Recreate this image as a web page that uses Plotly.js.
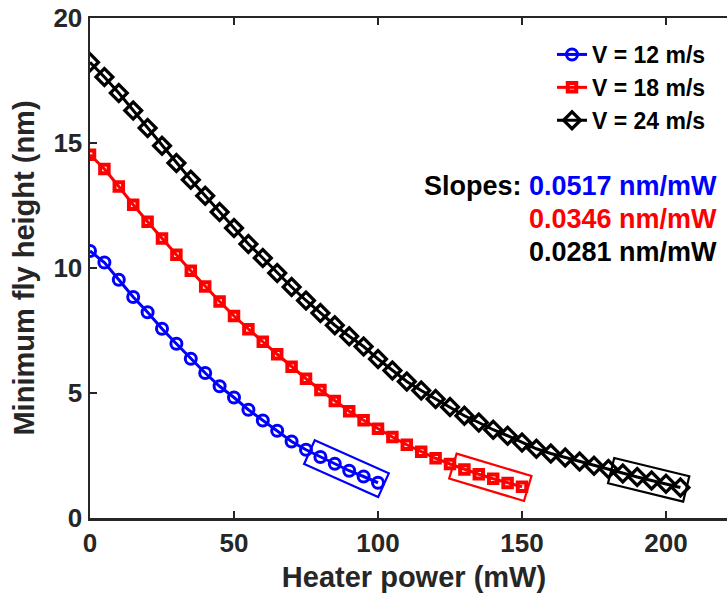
<!DOCTYPE html>
<html><head><meta charset="utf-8">
<script src="https://cdn.plot.ly/plotly-3.0.1.min.js"></script>
<style>html,body{margin:0;padding:0;background:#fff;overflow:hidden;}</style>
</head><body><div id="chart" style="width:741px;height:597px;"></div>
<script>
// ---- data ----
const seriesNames = ['V = 12 m/s', 'V = 18 m/s', 'V = 24 m/s'];
const seriesColors = ['#0000ff', '#ff0000', '#000000'];

const powerBlue = [0,5,10,15,20,25,30,35,40,45,50,55,60,65,70,75,80,85,90,95,100];
const heightBlue = [10.68,10.22,9.53,8.84,8.23,7.57,6.97,6.37,5.80,5.27,4.82,4.33,3.90,3.49,3.06,2.73,2.44,2.17,1.89,1.66,1.41];

const powerRed = [0,5,10,15,20,25,30,35,40,45,50,55,60,65,70,75,80,85,90,95,100,105,110,115,120,125,130,135,140,145,150];
const heightRed = [14.53,13.96,13.26,12.53,11.85,11.18,10.53,9.89,9.26,8.66,8.08,7.55,7.05,6.55,6.05,5.57,5.12,4.68,4.27,3.91,3.57,3.24,2.93,2.65,2.39,2.16,1.94,1.75,1.57,1.40,1.25];

const powerBlack = [0,5,10,15,20,25,30,35,40,45,50,55,60,65,70,75,80,85,90,95,100,105,110,115,120,125,130,135,140,145,150,155,160,165,170,175,180,185,190,195,200,205];
const heightBlack = [18.23,17.64,17.00,16.30,15.60,14.89,14.20,13.53,12.89,12.24,11.60,10.96,10.40,9.80,9.24,8.70,8.20,7.71,7.27,6.86,6.36,5.90,5.46,5.10,4.76,4.44,4.09,3.82,3.53,3.29,3.02,2.77,2.58,2.42,2.26,2.09,1.96,1.78,1.64,1.50,1.37,1.22];

const slopeLabel = 'Slopes:';
const slopeTexts = ['0.0517 nm/mW', '0.0346 nm/mW', '0.0281 nm/mW'];

const xTicks = [0, 50, 100, 150, 200];
const yTicks = [0, 5, 10, 15, 20];

// ---- layout geometry (axes box runs past the right edge of the 727 px view) ----
const W = 741, H = 597;
const M = {l: 90, r: 3, t: 18, b: 79};
const xRange = [0, 225], yRange = [0, 20];
const plotW = W - M.l - M.r, plotH = H - M.t - M.b;
const pxX = plotW / (xRange[1] - xRange[0]);
const pxY = plotH / (yRange[1] - yRange[0]);
const px2paperX = p => (p - M.l) / plotW;
const px2paperY = p => (H - M.b - p) / plotH;

const FONT = 'Liberation Sans, Arial, Helvetica, sans-serif';
const AXC = '#262626';

// rotated box around the last n points of a series (fit region)
function boxPath(xs, ys, n, padS, padE, half) {
  const i0 = xs.length - n, i1 = xs.length - 1;
  const ax = xs[i0] * pxX, ay = ys[i0] * pxY, bx = xs[i1] * pxX, by = ys[i1] * pxY;
  let dx = bx - ax, dy = by - ay;
  const L = Math.hypot(dx, dy); dx /= L; dy /= L;
  const nx = -dy, ny = dx;
  const pts = [
    [ax - dx * padS + nx * half, ay - dy * padS + ny * half],
    [bx + dx * padE + nx * half, by + dy * padE + ny * half],
    [bx + dx * padE - nx * half, by + dy * padE - ny * half],
    [ax - dx * padS - nx * half, ay - dy * padS - ny * half]
  ];
  return 'M' + pts.map(p => (p[0] / pxX).toFixed(3) + ',' + (p[1] / pxY).toFixed(3)).join(' L') + ' Z';
}

const xs = [powerBlue, powerRed, powerBlack];
const ys = [heightBlue, heightRed, heightBlack];
const symbols = ['circle-open', 'square-open', 'diamond-open'];
const msize = [11, 8.5, 13];
const mlw = [3, 4, 3.2];

const traces = xs.map((x, i) => ({
  x: x, y: ys[i], type: 'scatter', mode: 'lines+markers', name: seriesNames[i],
  line: {color: seriesColors[i], width: 3},
  marker: {symbol: symbols[i], size: msize[i], color: seriesColors[i], line: {color: seriesColors[i], width: mlw[i]}}
}));

const shapes = xs.map((x, i) => ({
  type: 'path', xref: 'x', yref: 'y', path: boxPath(x, ys[i], 5, 12, 6, 13),
  line: {color: seriesColors[i], width: 2.2}, fillcolor: 'rgba(0,0,0,0)'
}));

const annPx = [186, 219, 252];
const annotations = [{
  xref: 'paper', yref: 'paper', x: px2paperX(524), y: px2paperY(annPx[0]),
  xanchor: 'right', yanchor: 'middle', showarrow: false, text: slopeLabel,
  font: {family: FONT, size: 27, color: '#000000', weight: 'bold'}
}].concat(slopeTexts.map((t, i) => ({
  xref: 'paper', yref: 'paper', x: px2paperX(527), y: px2paperY(annPx[i]),
  xanchor: 'left', yanchor: 'middle', showarrow: false, text: t,
  font: {family: FONT, size: 27, color: seriesColors[i], weight: 'bold'}
})));

const axisCommon = {
  showgrid: false, zeroline: false, showline: true, linecolor: AXC, linewidth: 2.5,
  mirror: 'allticks', ticks: 'inside', ticklen: 7, tickwidth: 2.5, tickcolor: AXC,
  tickfont: {family: FONT, size: 26, color: AXC, weight: 'bold'}, fixedrange: true
};

const layout = {
  width: W, height: H, margin: M, paper_bgcolor: '#fff', plot_bgcolor: '#fff',
  font: {family: FONT, weight: 'bold'},
  xaxis: Object.assign({}, axisCommon, {range: xRange, tickmode: 'array', tickvals: xTicks, ticktext: xTicks.map(String),
    title: {text: 'Heater power (mW)', font: {family: FONT, size: 29, color: AXC, weight: 'bold'}, standoff: 10}}),
  yaxis: Object.assign({}, axisCommon, {range: yRange, tickmode: 'array', tickvals: yTicks, ticktext: yTicks.map(String),
    title: {text: 'Minimum fly height (nm)', font: {family: FONT, size: 29, color: AXC, weight: 'bold'}, standoff: 10}}),
  showlegend: true,
  legend: {x: px2paperX(552), y: px2paperY(33), xanchor: 'left', yanchor: 'top', bgcolor: 'rgba(0,0,0,0)',
    borderwidth: 0, font: {family: FONT, size: 23, color: '#000', weight: 'bold'}, tracegroupgap: 0},
  shapes: shapes, annotations: annotations
};

Plotly.newPlot('chart', traces, layout, {displayModeBar: false, staticPlot: true});
</script>
</body></html>
